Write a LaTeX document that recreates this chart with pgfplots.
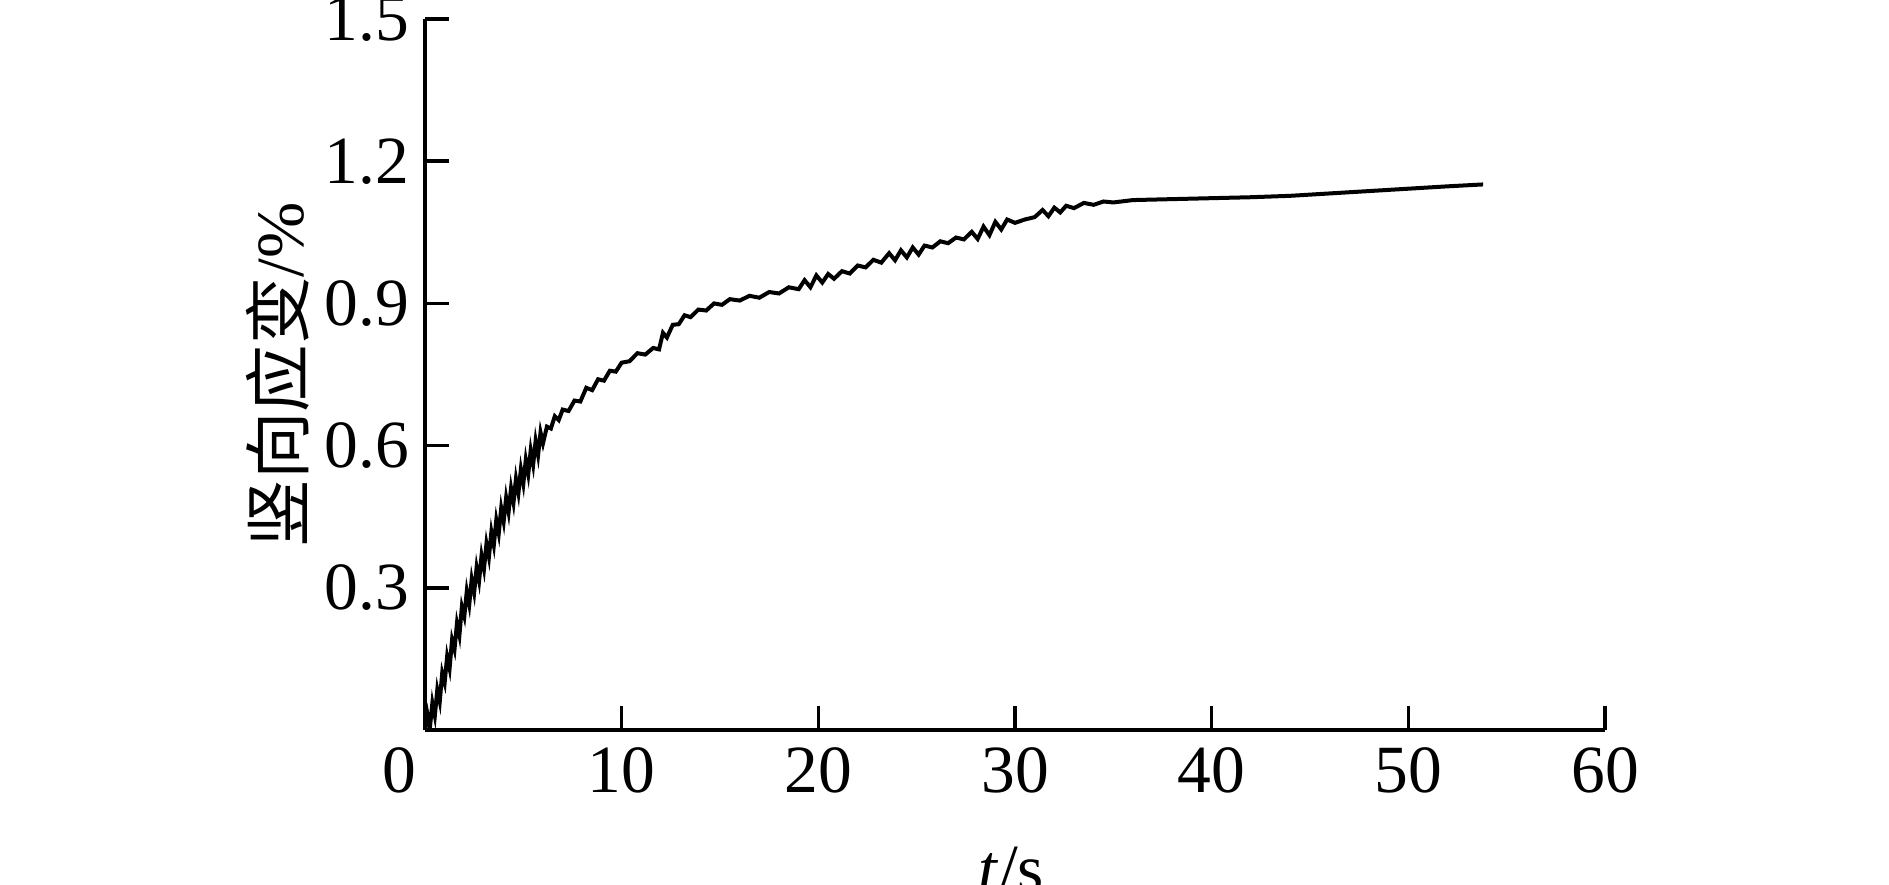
\documentclass[border=0pt]{standalone}
\usepackage{fontspec}
\setmainfont{Liberation Serif}
\newfontfamily\cjk{Noto Sans CJK SC}
\usepackage{pgfplots}
\pgfplotsset{compat=1.18}

\begin{document}
\fontsize{13.5}{16}\selectfont
\begin{tikzpicture}
\begin{axis}[name=ax,
  width=236pt, height=142.2pt, scale only axis,
  xmin=0, xmax=60, ymin=0, ymax=1.5,
  axis x line=bottom, axis y line=left,
  axis line style={-, line width=0.7pt, black},
  tick style={line width=0.7pt, black},
  major tick length=4.8pt, tick align=inside,
  xtick={0,10,20,30,40,50,60},
  xticklabels={\llap{0\kern1.8pt},10,20,30,40,50,60},
  ytick={0.3,0.6,0.9,1.2,1.5},
  yticklabels={0.3,0.6,0.9,1.2,1.5},
  /pgf/number format/assume math mode=true,
  tick label style={font=\fontsize{13.5}{16}\selectfont},
  xticklabel style={inner sep=0pt, yshift=-3.4pt},
  yticklabel style={inner sep=0pt, xshift=-3pt},
  every axis x label/.style={at={(axis description cs:0.497,-0.163)}, anchor=north, inner sep=0pt, font=\fontsize{13.5}{16}\selectfont},
  every axis y label/.style={at={(axis description cs:-0.125,0.5)}, rotate=90, anchor=center, inner sep=0pt, font=\fontsize{13.5}{16}\selectfont},
  xlabel={\textit{t}/s},
  ylabel={{\cjk 竖向应变}/\%},
]
\addplot[black, line width=0.8pt] coordinates {
(0,0)(0.125,0.033)(0.25,0.005)(0.375,0.057)(0.5,0.030)(0.625,0.085)(0.75,0.060)(0.875,0.120)
(1.0,0.100)(1.125,0.155)(1.25,0.130)(1.375,0.190)(1.5,0.170)(1.625,0.225)(1.75,0.200)(1.875,0.260)
(2.0,0.240)(2.125,0.293)(2.25,0.265)(2.375,0.318)(2.5,0.290)(2.625,0.343)(2.75,0.315)(2.875,0.368)
(3.0,0.340)(3.125,0.393)(3.25,0.365)(3.375,0.418)(3.5,0.390)(3.625,0.443)(3.75,0.415)(3.875,0.468)
(4.0,0.440)(4.125,0.490)(4.25,0.460)(4.375,0.510)(4.5,0.480)(4.625,0.530)(4.75,0.500)(4.875,0.550)
(5.0,0.520)(5.125,0.570)(5.25,0.540)(5.375,0.590)(5.5,0.560)(5.625,0.610)(5.75,0.580)(5.875,0.628)
(6.0,0.605)(6.2,0.640)(6.4,0.636)(6.6,0.662)(6.8,0.654)(7.0,0.676)(7.3,0.673)(7.6,0.695)(7.9,0.693)
(8.2,0.722)(8.5,0.717)(8.8,0.740)(9.1,0.737)(9.4,0.758)(9.7,0.756)(10.0,0.775)(10.4,0.778)
(10.8,0.795)(11.2,0.792)(11.6,0.806)(11.9,0.803)(12.1,0.838)(12.3,0.828)(12.6,0.855)(12.9,0.856)
(13.2,0.875)(13.5,0.871)(13.9,0.887)(14.3,0.885)(14.7,0.900)(15.1,0.897)(15.5,0.909)(16.0,0.906)
(16.5,0.916)(17.0,0.912)(17.5,0.924)(18.0,0.921)(18.5,0.934)(19.0,0.930)
(19.3,0.949)(19.6,0.934)(19.9,0.959)(20.2,0.944)(20.5,0.962)(20.8,0.952)(21.2,0.968)(21.6,0.963)
(22.0,0.980)(22.4,0.976)(22.8,0.992)(23.2,0.986)(23.6,1.006)(23.9,0.991)(24.2,1.012)(24.5,0.997)
(24.8,1.018)(25.1,1.003)(25.4,1.022)(25.8,1.018)(26.2,1.031)(26.6,1.027)(27.0,1.039)(27.4,1.035)
(27.8,1.051)(28.1,1.036)(28.4,1.062)(28.7,1.044)(29.0,1.072)(29.3,1.056)(29.6,1.077)(30.0,1.070)
(30.5,1.077)(31.0,1.082)(31.4,1.097)(31.7,1.084)(32.0,1.102)(32.3,1.092)(32.6,1.106)(33.0,1.101)
(33.5,1.112)(34.0,1.108)(34.5,1.115)(35.0,1.113)(36,1.118)(37,1.119)(38,1.120)(40,1.122)
(42,1.124)(44,1.127)(46,1.132)(48,1.137)(50,1.142)(52,1.147)(53.8,1.151)
};
\end{axis}
\pgfresetboundingbox
\path[use as bounding box] ([shift={(-85pt,-30.8pt)}]ax.south west) rectangle ([shift={(56.8pt,3.8pt)}]ax.north east);
\end{tikzpicture}
\end{document}
